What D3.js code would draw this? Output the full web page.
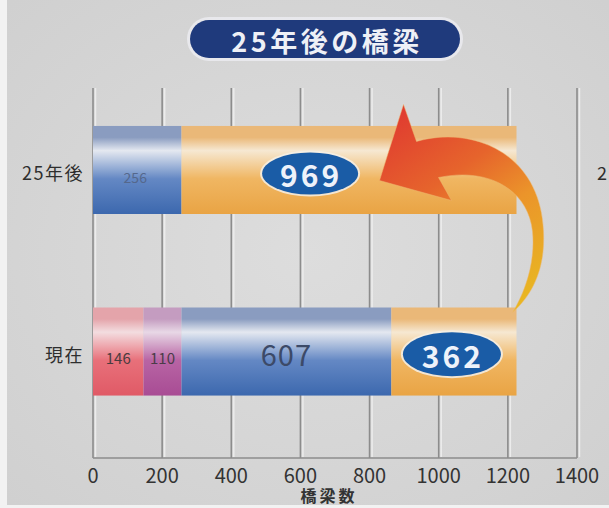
<!DOCTYPE html>
<html>
<head>
<meta charset="utf-8">
<script src="https://cdn.jsdelivr.net/npm/d3@7"></script>
<style>
  html, body { margin: 0; padding: 0; background: #f2f2f2; }
  svg { display: block; }
  text { font-family: "Noto Sans CJK JP", "Noto Sans", sans-serif; }
</style>
</head>
<body>
<svg id="chart" width="609" height="508"></svg>
<script>
// Bridge counts by age class, now and 25 years later
const categories = ["25年後", "現在"];
const seriesKeys = ["class1", "class2", "class3", "class4"];
const class1Vals = [0, 146];
const class2Vals = [0, 110];
const class3Vals = [256, 607];
const class4Vals = [969, 362];
const xTicks = [0, 200, 400, 600, 800, 1000, 1200, 1400];
const titleText = "25年後の橋梁";
const axisTitle = "橋梁数";

const W = 609, H = 508;
const svg = d3.select("#chart");
const defs = svg.append("defs");

// background panel
const bgGrad = defs.append("radialGradient").attr("id", "bg")
  .attr("cx", "50%").attr("cy", "50%").attr("r", "70%");
bgGrad.append("stop").attr("offset", "0%").attr("stop-color", "#dddddd");
bgGrad.append("stop").attr("offset", "100%").attr("stop-color", "#d0d0d0");
svg.append("rect").attr("x", 7).attr("y", 0).attr("width", W - 7).attr("height", 505)
  .attr("fill", "url(#bg)");

const x = d3.scaleLinear().domain([0, 1400]).range([93, 577]);
const y = d3.scaleBand().domain(categories).range([88, 433.5])
  .paddingInner(0.515).paddingOuter(0.209);

// cylinder-like vertical gradients per segment
const palette = {
  class1: { top: "#e4a4aa", hi: "#f3dde0", mid: "#e8707a", bot: "#e05a66" },
  class2: { top: "#c49cc0", hi: "#e8d8e6", mid: "#b864a4", bot: "#a84c94" },
  class3: { top: "#8a9cc0", hi: "#e4e8f0", mid: "#6488c4", bot: "#3c68ae" },
  class4: { top: "#eab878", hi: "#f6e8d2", mid: "#f0b662", bot: "#e9a444" }
};
seriesKeys.forEach(k => {
  const c = palette[k];
  const g = defs.append("linearGradient").attr("id", "g-" + k)
    .attr("x1", 0).attr("y1", 0).attr("x2", 0).attr("y2", 1);
  [[0, c.top], [0.13, c.top], [0.28, c.hi], [0.6, c.mid], [1, c.bot]].forEach(([o, col]) =>
    g.append("stop").attr("offset", o).attr("stop-color", col));
});

// gridlines
const grid = svg.append("g");
grid.selectAll("line.light").data(xTicks).join("line")
  .attr("class", "light")
  .attr("x1", d => x(d) + 2.5).attr("x2", d => x(d) + 2.5)
  .attr("y1", 88).attr("y2", 457)
  .attr("stroke", "#ececec").attr("stroke-width", 1.5);
grid.selectAll("line.dark").data(xTicks).join("line")
  .attr("class", "dark")
  .attr("x1", d => x(d)).attr("x2", d => x(d))
  .attr("y1", 88).attr("y2", 458)
  .attr("stroke", "#8c8c8c").attr("stroke-width", 1.6);
grid.append("line")
  .attr("x1", x(0)).attr("x2", x(1400)).attr("y1", 458).attr("y2", 458)
  .attr("stroke", "#8c8c8c").attr("stroke-width", 1.6);

// stacked bars
const rows = categories.map((c, i) => ({
  cat: c, class1: class1Vals[i], class2: class2Vals[i], class3: class3Vals[i], class4: class4Vals[i]
}));
const stacked = d3.stack().keys(seriesKeys)(rows);
const bars = svg.append("g");
stacked.forEach(s => {
  bars.selectAll(null).data(s.filter(d => d[1] > d[0])).join("rect")
    .attr("x", d => x(d[0]))
    .attr("width", d => x(d[1]) - x(d[0]))
    .attr("y", d => y(d.data.cat))
    .attr("height", y.bandwidth())
    .attr("fill", "url(#g-" + s.key + ")");
});

// value labels inside segments
const small = svg.append("g").attr("text-anchor", "middle").attr("dominant-baseline", "central");
const mid = (i, k) => {
  const s = stacked[seriesKeys.indexOf(k)][i];
  return (s[0] + s[1]) / 2;
};
small.append("text").attr("x", x(mid(0, "class3")) - 2).attr("y", y("25年後") + y.bandwidth() * 0.58)
  .attr("font-size", 14).attr("fill", "#55688c").text(class3Vals[0]);
small.append("text").attr("x", x(mid(1, "class1"))).attr("y", y("現在") + y.bandwidth() * 0.57)
  .attr("font-size", 15).attr("fill", "#4a3c40").text(class1Vals[1]);
small.append("text").attr("x", x(mid(1, "class2"))).attr("y", y("現在") + y.bandwidth() * 0.57)
  .attr("font-size", 15).attr("fill", "#4a3c48").text(class2Vals[1]);
small.append("text").attr("x", x(mid(1, "class3"))).attr("y", y("現在") + y.bandwidth() * 0.52)
  .attr("font-size", 29).attr("fill", "#3c4a68").attr("letter-spacing", 1).text(class3Vals[1]);

// oval value badges
function badge(cx, cy, rx, ry, val) {
  const g = svg.append("g");
  g.append("ellipse").attr("cx", cx).attr("cy", cy).attr("rx", rx + 2).attr("ry", ry + 2)
    .attr("fill", "#f4f0e8").attr("opacity", 0.85);
  g.append("ellipse").attr("cx", cx).attr("cy", cy).attr("rx", rx).attr("ry", ry)
    .attr("fill", "#1a5ca6");
  g.append("text").attr("x", cx + 1).attr("y", cy + 1)
    .attr("text-anchor", "middle").attr("dominant-baseline", "central")
    .attr("font-size", 30).attr("font-weight", "bold").attr("fill", "#eef2fa")
    .attr("letter-spacing", 3).text(val);
}
badge(x(628), y("25年後") + y.bandwidth() * 0.54, 48, 21, class4Vals[0]);
badge(x(mid(1, "class4")) - 2, y("現在") + y.bandwidth() * 0.53, 49, 22, class4Vals[1]);

// curved arrow from the current bar end up to the 25-year bar
const ex = x(d3.sum(seriesKeys, k => rows[1][k]));
const topY = y("現在");
const ox = ex - 516, oy = topY - 306;
const P = (a, b) => [a + ox, b + oy];
const arrowGrad = defs.append("linearGradient").attr("id", "arrow")
  .attr("gradientUnits", "userSpaceOnUse")
  .attr("x1", P(400, 110)[0]).attr("y1", P(400, 110)[1])
  .attr("x2", P(530, 300)[0]).attr("y2", P(530, 300)[1]);
[[0, "#e03c30"], [0.35, "#e6642c"], [0.6, "#eb942a"], [1, "#e8b822"]].forEach(([o, c]) =>
  arrowGrad.append("stop").attr("offset", o).attr("stop-color", c));
const path = d3.path();
path.moveTo(...P(403, 103));
path.lineTo(...P(416, 140));
path.bezierCurveTo(...P(470, 124), ...P(540, 150), ...P(543, 230));
path.bezierCurveTo(...P(545, 270), ...P(530, 295), ...P(512, 311));
path.bezierCurveTo(...P(525, 290), ...P(535, 260), ...P(532, 230));
path.bezierCurveTo(...P(528, 190), ...P(490, 165), ...P(438, 176));
path.lineTo(...P(451, 199));
path.lineTo(...P(379, 179));
path.closePath();
svg.append("path").attr("d", path.toString()).attr("fill", "url(#arrow)")
  .attr("stroke", "#eeb870").attr("stroke-opacity", 0.5).attr("stroke-width", 1);

// category labels
svg.append("g").selectAll("text").data(categories).join("text")
  .attr("x", 84).attr("y", d => y(d) + y.bandwidth() / 2 + 2)
  .attr("text-anchor", "end").attr("dominant-baseline", "central")
  .attr("font-size", 18).attr("letter-spacing", 1.5).attr("fill", "#2e2e2e").text(d => d);
// first character of the neighbouring panel's label at the right edge
svg.append("text").attr("x", 597).attr("y", y("25年後") + y.bandwidth() / 2 + 2)
  .attr("dominant-baseline", "central").attr("font-size", 18).attr("fill", "#2e2e2e").text("2");

// x axis tick labels
svg.append("g").selectAll("text").data(xTicks).join("text")
  .attr("x", d => x(d)).attr("y", 474)
  .attr("text-anchor", "middle").attr("dominant-baseline", "central")
  .attr("font-family", "'Liberation Sans', Arial, sans-serif")
  .attr("font-size", 20).attr("fill", "#333").text(d => d);
svg.append("text").attr("x", 329).attr("y", 495)
  .attr("text-anchor", "middle").attr("dominant-baseline", "central")
  .attr("font-size", 16).attr("font-weight", "bold").attr("letter-spacing", 3)
  .attr("fill", "#333").text(axisTitle);

// title pill
const tg = svg.append("g");
tg.append("rect").attr("x", 187).attr("y", 17).attr("width", 276).attr("height", 44).attr("rx", 22)
  .attr("fill", "#e8e8ec");
tg.append("rect").attr("x", 190).attr("y", 20).attr("width", 270).attr("height", 38).attr("rx", 19)
  .attr("fill", "#1f3a7c");
tg.append("text").attr("x", 327).attr("y", 40)
  .attr("text-anchor", "middle").attr("dominant-baseline", "central")
  .attr("font-size", 27).attr("font-weight", "bold").attr("fill", "#eef0f6")
  .attr("letter-spacing", 3.5).text(titleText);
</script>
</body>
</html>
